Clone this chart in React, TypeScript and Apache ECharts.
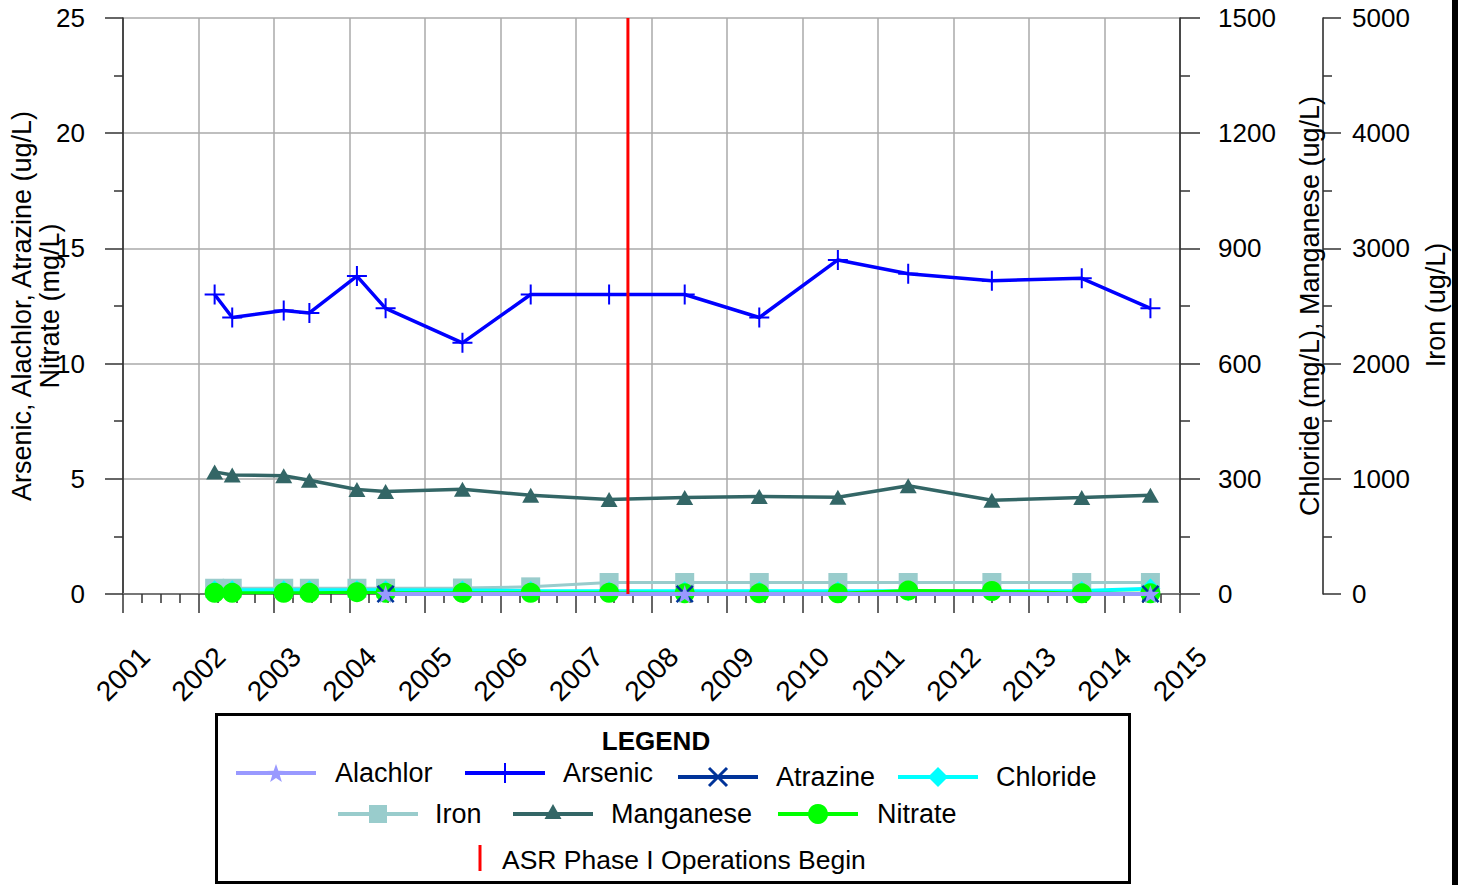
import React, { useEffect, useRef } from "react";
import * as echarts from "echarts";

// ---------- data ----------
const sampleDates = [
  "2002-03-20", "2002-06-13", "2003-02-17", "2003-06-21", "2004-02-06", "2004-06-24",
  "2005-07-01", "2006-05-27", "2007-06-10", "2008-06-10", "2009-06-06", "2010-06-21",
  "2011-05-27", "2012-07-05", "2013-09-13", "2014-08-11",
];
const arsenic = [13.0, 12.0, 12.3, 12.2, 13.8, 12.4, 10.9, 13.0, 13.0, 13.0, 12.0, 14.5, 13.9, 13.6, 13.7, 12.4];
const manganese = [318, 310, 308, 296, 272, 267, 273, 257, 246, 251, 254, 252, 282, 244, 251, 257];
const iron = [50, 50, 50, 50, 50, 50, 52, 62, 100, 100, 100, 100, 100, 100, 100, 100];
const chloride = [10, 10, 10, 10, 10, 10, 9, 8, 7, 7, 7, 7, 7, 7, 8, 14];
const nitrate = [0.05, 0.05, 0.05, 0.05, 0.08, 0.05, 0.05, 0.05, 0.05, 0.03, 0.03, 0.03, 0.15, 0.13, 0.03, 0.03];
const pesticideDates = ["2004-06-24", "2008-06-10", "2014-08-11"];
const alachlor = [0, 0, 0];
const atrazine = [0, 0, 0];
const asrStart = "2007-09-09";
const asrRange = [0, 25];

const xMin = 2001;
const xMax = 2015;

const FONT = "'Liberation Sans', Arial, Helvetica, sans-serif";

function decYear(s: string): number {
  const [y, m, d] = s.split("-").map(Number);
  const start = Date.UTC(y, 0, 1);
  const end = Date.UTC(y + 1, 0, 1);
  return y + (Date.UTC(y, m - 1, d) - start) / (end - start);
}
function pairs(dates: string[], vals: number[]) {
  return dates.map((d, i) => [decYear(d), vals[i]]);
}

const PLUS = "path://M9,0h2v9h9v2h-9v9h-2v-9h-9v-2h9z";
const XMARK = "path://M0,2L2,0L10,8L18,0L20,2L12,10L20,18L18,20L10,12L2,20L0,18L8,10Z";
const STAR = "path://M10,0L12.35,6.76L19.51,6.91L13.8,11.24L15.88,18.09L10,14L4.12,18.09L6.2,11.24L0.49,6.91L7.65,6.76Z";

function starPoints(cx: number, cy: number, R: number, r: number) {
  const pts: number[][] = [];
  for (let k = 0; k < 10; k++) {
    const a = (-90 + k * 36) * Math.PI / 180;
    const rad = k % 2 === 0 ? R : r;
    pts.push([cx + rad * Math.cos(a), cy + rad * Math.sin(a)]);
  }
  return pts;
}

function legendLine(x1: number, x2: number, y: number, color: string, w: number) {
  return { type: "line", shape: { x1, y1: y, x2, y2: y }, style: { stroke: color, lineWidth: w }, z: 101 };
}
function legendText(x: number, y: number, text: string, extra: any = {}) {
  return {
    type: "text", x, y, z: 102,
    style: { text, fontSize: 27, fontFamily: FONT, fill: "#000", textAlign: "left", textVerticalAlign: "middle", ...extra },
  };
}

export default function App() {
  const ref = useRef<HTMLDivElement>(null);
  useEffect(() => {
    if (!ref.current) return;
    const chart = echarts.init(ref.current, null, { renderer: "svg" });

    const tickStyle = { color: "#333", width: 1.5 };
    const titleStyle = { fontSize: 27, fontFamily: FONT, fill: "#000", textAlign: "center", textVerticalAlign: "middle" };
    const graphics: any[] = [
      // right black bar
      { type: "rect", shape: { x: 1452, y: 0, width: 6, height: 885 }, style: { fill: "#000" }, z: 100 },
      // axis titles
      { type: "text", x: 22, y: 306, rotation: Math.PI / 2, z: 100, style: { text: "Arsenic, Alachlor, Atrazine (ug/L)", ...titleStyle } },
      { type: "text", x: 50, y: 306, rotation: Math.PI / 2, z: 100, style: { text: "Nitrate (mg/L)", ...titleStyle } },
      { type: "text", x: 1310, y: 306, rotation: Math.PI / 2, z: 100, style: { text: "Chloride (mg/L), Manganese (ug/L)", ...titleStyle } },
      { type: "text", x: 1436, y: 305, rotation: Math.PI / 2, z: 100, style: { text: "Iron (ug/L)", ...titleStyle } },
      // legend box
      { type: "rect", shape: { x: 216.5, y: 714.5, width: 913, height: 168 }, style: { fill: "#fff", stroke: "#000", lineWidth: 3 }, z: 100 },
      legendText(656, 741, "LEGEND", { textAlign: "center", fontWeight: "bold", fontSize: 26 }),
      // Alachlor
      legendLine(236, 316, 773, "#9999ff", 4),
      { type: "polygon", shape: { points: starPoints(276, 774, 10, 4) }, style: { fill: "#9999ff" }, z: 102 },
      legendText(335, 773, "Alachlor"),
      // Arsenic
      legendLine(465, 545, 773, "#0000ff", 4),
      { type: "line", shape: { x1: 505, y1: 763, x2: 505, y2: 783 }, style: { stroke: "#0000ff", lineWidth: 2 }, z: 102 },
      legendText(563, 773, "Arsenic"),
      // Atrazine
      legendLine(678, 758, 777, "#003399", 4),
      { type: "line", shape: { x1: 709, y1: 768, x2: 727, y2: 786 }, style: { stroke: "#003399", lineWidth: 3 }, z: 102 },
      { type: "line", shape: { x1: 709, y1: 786, x2: 727, y2: 768 }, style: { stroke: "#003399", lineWidth: 3 }, z: 102 },
      legendText(776, 777, "Atrazine"),
      // Chloride
      legendLine(898, 978, 777, "#00ffff", 4),
      { type: "polygon", shape: { points: [[938, 767], [948, 777], [938, 787], [928, 777]] }, style: { fill: "#00ffff" }, z: 102 },
      legendText(996, 777, "Chloride"),
      // Iron
      legendLine(338, 418, 814, "#99cccc", 4),
      { type: "rect", shape: { x: 369, y: 805, width: 18, height: 18 }, style: { fill: "#99cccc" }, z: 102 },
      legendText(435, 814, "Iron"),
      // Manganese
      legendLine(513, 593, 814, "#336666", 4),
      { type: "polygon", shape: { points: [[553, 804], [561.5, 819], [544.5, 819]] }, style: { fill: "#336666" }, z: 102 },
      legendText(611, 814, "Manganese"),
      // Nitrate
      legendLine(778, 858, 814, "#00ff00", 4),
      { type: "circle", shape: { cx: 818, cy: 814, r: 10 }, style: { fill: "#00ff00" }, z: 102 },
      legendText(877, 814, "Nitrate"),
      // ASR
      { type: "line", shape: { x1: 480, y1: 845, x2: 480, y2: 871 }, style: { stroke: "#ff0000", lineWidth: 3 }, z: 102 },
      legendText(502, 860, "ASR Phase I Operations Begin", { fontSize: 26.5 }),
    ];

    const option: any = {
      animation: false,
      backgroundColor: "#fff",
      textStyle: { fontFamily: FONT },
      grid: { left: 123, top: 18, right: 284, bottom: 291, containLabel: false, outerBoundsMode: "none" },
      xAxis: {
        type: "value", min: xMin, max: xMax, interval: 1,
        axisLine: { show: true, onZero: false, lineStyle: { color: "#777", width: 2 } },
        axisTick: { show: true, length: 19, lineStyle: tickStyle },
        minorTick: { show: true, splitNumber: 4, length: 9, lineStyle: tickStyle },
        splitLine: { show: true, lineStyle: { color: "#aaaaaa", width: 1.5 } },
        axisLabel: {
          rotate: 45, align: "center", verticalAlign: "middle", margin: 80,
          fontSize: 28, color: "#000", fontFamily: FONT,
          formatter: (v: number) => String(v),
        },
      },
      yAxis: [
        {
          type: "value", position: "left", min: 0, max: 25, interval: 5,
          axisLine: { show: true, lineStyle: { color: "#222", width: 1.5 } },
          axisTick: { show: true, length: 18, lineStyle: tickStyle },
          minorTick: { show: true, splitNumber: 2, length: 9, lineStyle: tickStyle },
          splitLine: { show: true, lineStyle: { color: "#aaaaaa", width: 1.5 } },
          axisLabel: { margin: 38, fontSize: 26, color: "#000", fontFamily: FONT },
        },
        {
          type: "value", position: "right", min: 0, max: 1500, interval: 300,
          axisLine: { show: true, lineStyle: { color: "#222", width: 1.5 } },
          axisTick: { show: true, length: 20, lineStyle: tickStyle },
          minorTick: { show: true, splitNumber: 2, length: 10, lineStyle: tickStyle },
          splitLine: { show: false },
          axisLabel: { margin: 38, fontSize: 26, color: "#000", fontFamily: FONT, formatter: (v: number) => String(v) },
        },
        {
          type: "value", position: "right", offset: 143, min: 0, max: 5000, interval: 1000,
          axisLine: { show: true, lineStyle: { color: "#222", width: 1.5 } },
          axisTick: { show: true, length: 18, lineStyle: tickStyle },
          minorTick: { show: true, splitNumber: 2, length: 9, lineStyle: tickStyle },
          splitLine: { show: false },
          axisLabel: { margin: 29, fontSize: 26, color: "#000", fontFamily: FONT, formatter: (v: number) => String(v) },
        },
      ],
      series: [
        {
          name: "Iron", type: "line", yAxisIndex: 2, data: pairs(sampleDates, iron), clip: false,
          symbol: "rect", symbolSize: 19, itemStyle: { color: "#99cccc" },
          lineStyle: { color: "#99cccc", width: 3 }, z: 2, silent: true,
        },
        {
          name: "Chloride", type: "line", yAxisIndex: 1, data: pairs(sampleDates, chloride), clip: false,
          symbol: "diamond", symbolSize: 20, itemStyle: { color: "#00ffff" },
          lineStyle: { color: "#00ffff", width: 4 }, z: 3, silent: true,
        },
        {
          name: "Nitrate", type: "line", yAxisIndex: 0, data: pairs(sampleDates, nitrate), clip: false,
          symbol: "circle", symbolSize: 20, itemStyle: { color: "#00ff00" },
          lineStyle: { color: "#00ff00", width: 3 }, z: 4, silent: true,
        },
        {
          name: "Manganese", type: "line", yAxisIndex: 1, data: pairs(sampleDates, manganese), clip: false,
          symbol: "triangle", symbolSize: [17, 15], itemStyle: { color: "#336666" },
          lineStyle: { color: "#336666", width: 3.5 }, z: 5, silent: true,
        },
        {
          name: "Arsenic", type: "line", yAxisIndex: 0, data: pairs(sampleDates, arsenic), clip: false,
          symbol: PLUS, symbolSize: 20, itemStyle: { color: "#0000ff" },
          lineStyle: { color: "#0000ff", width: 3.5 }, z: 6, silent: true,
        },
        {
          name: "Atrazine", type: "line", yAxisIndex: 0, data: pairs(pesticideDates, atrazine), clip: false,
          symbol: XMARK, symbolSize: 18, itemStyle: { color: "#003399" },
          lineStyle: { color: "#003399", width: 3 }, z: 7, silent: true,
        },
        {
          name: "Alachlor", type: "line", yAxisIndex: 0, data: pairs(pesticideDates, alachlor), clip: false,
          symbol: STAR, symbolSize: 18, itemStyle: { color: "#9999ff" },
          lineStyle: { color: "#9999ff", width: 4 }, z: 8, silent: true,
        },
        {
          name: "ASR Phase I Operations Begin", type: "line", yAxisIndex: 0,
          data: asrRange.map((v) => [decYear(asrStart), v]), clip: false,
          symbol: "none", lineStyle: { color: "#ff0000", width: 3 }, z: 9, silent: true,
        },
      ],
      graphic: graphics,
    };
    chart.setOption(option);
    return () => chart.dispose();
  }, []);
  return <div ref={ref} style={{ position: "absolute", left: 0, top: 0, width: 1464, height: 885 }} />;
}
